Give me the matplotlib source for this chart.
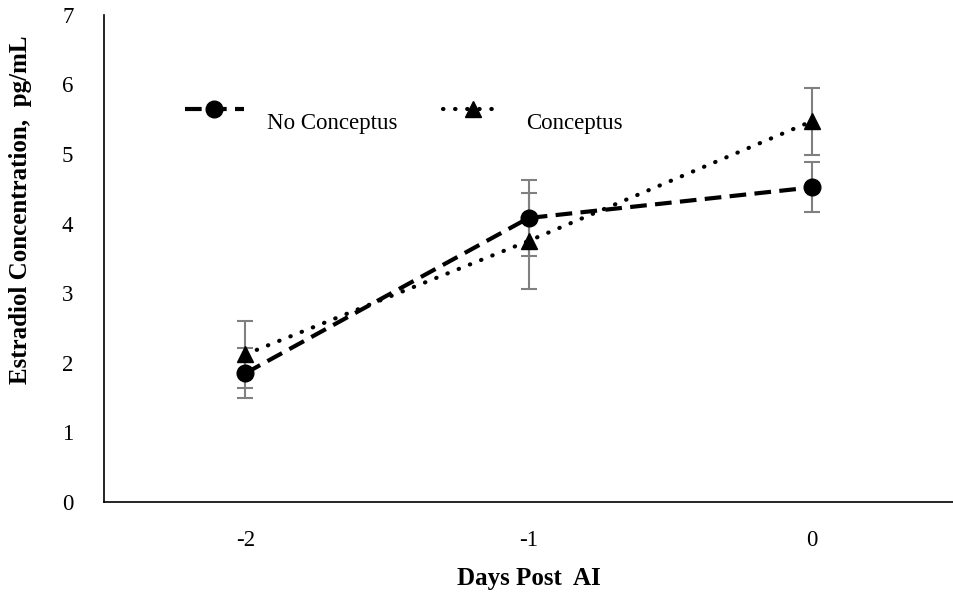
import numpy as np
import matplotlib.pyplot as plt

plt.rcParams['font.family'] = ['Liberation Serif', 'DejaVu Serif']

days = ['-2', '-1', '0']
no_conc = [1.85, 4.08, 4.52]
no_conc_err = [0.36, 0.55, 0.36]
conc = [2.12, 3.75, 5.47]
conc_err = [0.48, 0.69, 0.48]

x = np.arange(len(days))

fig = plt.figure(figsize=(9.54, 5.96), dpi=100)
ax = fig.add_axes([0.109, 0.158, 0.89, 0.817])

ax.errorbar(x, no_conc, yerr=no_conc_err, fmt='none', ecolor='#808080',
            elinewidth=1.5, capsize=6, capthick=1.5, zorder=1)
ax.errorbar(x, conc, yerr=conc_err, fmt='none', ecolor='#808080',
            elinewidth=1.5, capsize=6, capthick=1.5, zorder=1)
ax.plot(x, no_conc, color='black', linestyle=(0, (4, 2)), linewidth=3,
        marker='o', markersize=12, label='No Conceptus', zorder=3)
ax.plot(x, conc, color='black', linestyle=(0, (0.1, 2.8)), linewidth=3,
        dash_capstyle='round', marker='^', markersize=11,
        label='Conceptus', zorder=3)

ax.set_xlim(-0.5, 2.5)
ax.set_ylim(0, 7)
ax.set_xticks(x)
ax.set_xticklabels(days)
ax.set_yticks(range(8))
ax.tick_params(length=0, labelsize=16.5)
ax.tick_params(axis='x', pad=20)
ax.tick_params(axis='y', pad=22)
for s in ['top', 'right']:
    ax.spines[s].set_visible(False)
for s in ['left', 'bottom']:
    ax.spines[s].set_linewidth(1.2)

ax.set_xlabel('Days Post  AI', fontsize=18, fontweight='bold', labelpad=12)
ax.set_ylabel('Estradiol Concentration,  pg/mL', fontsize=18, fontweight='bold')
ax.yaxis.set_label_coords(-0.085, 0.6)

leg = ax.legend(loc='lower left', bbox_to_anchor=(0.095, 0.755), ncol=2,
                frameon=False, fontsize=16.5, handlelength=2.6, handleheight=2.2,
                columnspacing=2.0, handletextpad=1.0, borderpad=0, borderaxespad=0)
# text sits a bit below the line sample, like the original
for hp in leg._legend_handle_box.get_children():
    for row in hp.get_children():
        row.align = 'bottom'

fig.savefig('out.png', dpi=100)
